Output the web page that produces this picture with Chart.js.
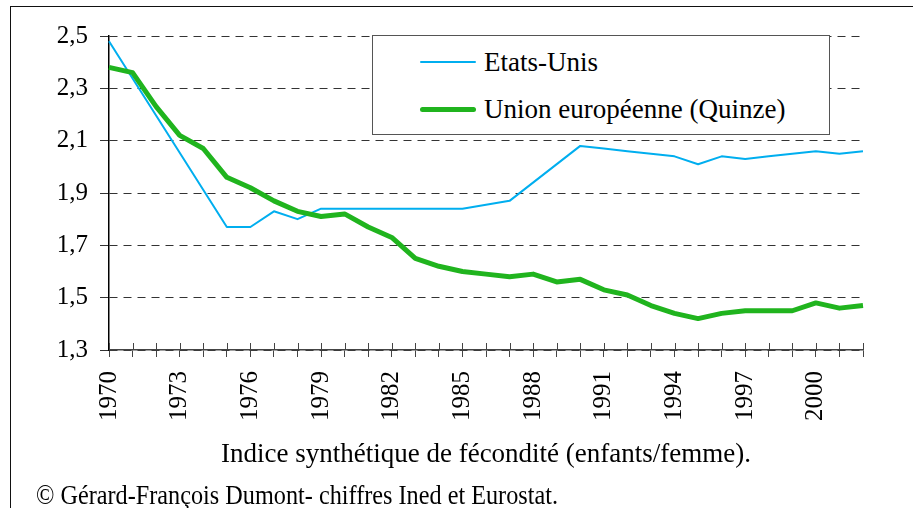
<!DOCTYPE html>
<html>
<head>
<meta charset="utf-8">
<script src="https://cdn.jsdelivr.net/npm/chart.js@4/dist/chart.umd.min.js"></script>
<style>
  html, body { margin: 0; padding: 0; background: #fff; overflow: hidden; }
  #wrap { position: relative; width: 913px; height: 508px; }
  #frame { position: absolute; left: 10px; top: 6px; width: 1000px; height: 1000px; border: 1px solid #111; box-sizing: border-box; }
  canvas { position: absolute; left: 0; top: 0; }
  #legend { position: absolute; left: 372px; top: 35px; width: 458px; height: 100px; box-sizing: border-box;
            border: 1px solid #555; background: #fff; font-family: "Liberation Serif", "Times New Roman", serif; font-size: 27px; color: #000; }
  .item { position: absolute; left: 47px; height: 30px; display: flex; align-items: center; white-space: nowrap; }
  .sw { width: 56px; margin-right: 8px; border-radius: 3px; }
</style>
</head>
<body>
<div id="wrap">
  <div id="frame"></div>
  <canvas id="c" width="913" height="508"></canvas>
  <div id="legend"></div>
</div>
<script>
const years = ['1970','1971','1972','1973','1974','1975','1976','1977','1978','1979',
               '1980','1981','1982','1983','1984','1985','1986','1987','1988','1989',
               '1990','1991','1992','1993','1994','1995','1996','1997','1998','1999',
               '2000','2001','2002'];
const usLabel = 'Etats-Unis';
const euLabel = 'Union européenne (Quinze)';
const usValues = [2.48, null, null, null, null, 1.77, 1.77, 1.83, 1.80, 1.84,
                  null, null, null, null, null, 1.84, null, 1.87, null, null,
                  2.08, 2.07, 2.06, 2.05, 2.04, 2.01, 2.04, 2.03, 2.04, 2.05,
                  2.06, 2.05, 2.06];
const euValues = [2.38, 2.36, 2.23, 2.12, 2.07, 1.96, 1.92, 1.87, 1.83, 1.81,
                  1.82, 1.77, 1.73, 1.65, 1.62, 1.60, 1.59, 1.58, 1.59, 1.56,
                  1.57, 1.53, 1.51, 1.47, 1.44, 1.42, 1.44, 1.45, 1.45, 1.45,
                  1.48, 1.46, 1.47];
const xTickLabels = ['1970','1973','1976','1979','1982','1985','1988','1991','1994','1997','2000'];
const yTicks = [1.3, 1.5, 1.7, 1.9, 2.1, 2.3, 2.5];
const axisTitle = 'Indice synthétique de fécondité (enfants/femme).';
const sourceText = '© Gérard-François Dumont- chiffres Ined et Eurostat.';

const SERIF = '"Liberation Serif", "Times New Roman", serif';

const extrasPlugin = {
  id: 'extras',
  afterDraw(chart) {
    const ctx = chart.ctx;
    const xs = chart.scales.x;
    const area = chart.chartArea;
    ctx.save();
    // upper half of x tick marks (crossing the axis)
    ctx.strokeStyle = '#444';
    ctx.lineWidth = 1;
    ctx.beginPath();
    for (let i = 0; i < xs.ticks.length; i++) {
      const px = Math.round(xs.getPixelForTick(i)) + 0.5;
      ctx.moveTo(px, area.bottom - 7);
      ctx.lineTo(px, area.bottom);
    }
    ctx.stroke();
    // axis title and source
    ctx.fillStyle = '#000';
    ctx.font = '27px ' + SERIF;
    ctx.textAlign = 'center';
    ctx.textBaseline = 'alphabetic';
    ctx.fillText(axisTitle, (area.left + area.right) / 2, 462);
    ctx.textAlign = 'left';
    ctx.fillText(sourceText, 36, 504, 522);
    ctx.restore();
  }
};

const chart = new Chart(document.getElementById('c'), {
  type: 'line',
  data: {
    labels: years,
    datasets: [
      { label: usLabel, data: usValues, borderColor: 'rgb(0,174,239)', backgroundColor: 'rgb(0,174,239)',
        borderWidth: 2, pointRadius: 0, tension: 0, spanGaps: true, order: 1, borderJoinStyle: 'round' },
      { label: euLabel, data: euValues, borderColor: 'rgb(32,180,30)', backgroundColor: 'rgb(32,180,30)',
        borderWidth: 5, pointRadius: 0, tension: 0, spanGaps: true, order: 0, borderJoinStyle: 'round' }
    ]
  },
  options: {
    responsive: false,
    animation: false,
    devicePixelRatio: 1,
    layout: { padding: { left: 0, right: 50, top: 36, bottom: 0 } },
    plugins: { legend: { display: false }, tooltip: { enabled: false } },
    scales: {
      x: {
        type: 'category',
        grid: { drawOnChartArea: false, drawTicks: true, tickLength: 7, color: '#444', lineWidth: 1 },
        border: { display: true, color: '#444', width: 1.5 },
        ticks: {
          autoSkip: false, minRotation: 90, maxRotation: 90, padding: 14,
          color: '#000', font: { family: SERIF, size: 25 },
          callback: function (v, i) { const l = this.getLabelForValue(v); return xTickLabels.includes(l) ? l : ''; }
        },
        afterFit(scale) { scale.height = 158; }
      },
      y: {
        min: 1.3, max: 2.5,
        afterBuildTicks(scale) { scale.ticks = yTicks.map(v => ({ value: v })); },
        grid: { color: '#333', lineWidth: 1, tickLength: 9, tickBorderDash: [], tickColor: '#333' },
        border: { display: true, color: '#000', width: 1.5, dash: [8, 6] },
        ticks: {
          padding: 12, color: '#000', font: { family: SERIF, size: 25 },
          callback: v => Number(v).toFixed(1).replace('.', ',')
        },
        afterFit(scale) { scale.width = 109; }
      }
    }
  },
  plugins: [extrasPlugin]
});

// HTML legend built from the chart's datasets
const legendEl = document.getElementById('legend');
const rowsTop = [11, 58];
chart.data.datasets.forEach((ds, i) => {
  const item = document.createElement('div');
  item.className = 'item';
  item.style.top = rowsTop[i] + 'px';
  const sw = document.createElement('span');
  sw.className = 'sw';
  sw.style.height = ds.borderWidth + 'px';
  sw.style.background = ds.borderColor;
  const tx = document.createElement('span');
  tx.textContent = ds.label;
  item.appendChild(sw);
  item.appendChild(tx);
  legendEl.appendChild(item);
});
</script>
</body>
</html>
